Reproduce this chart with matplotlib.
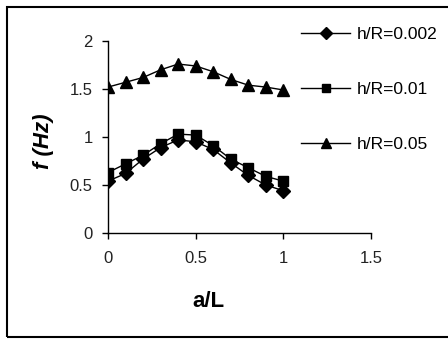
import matplotlib.pyplot as plt
from matplotlib.patches import Rectangle

plt.rcParams['font.family'] = ['Liberation Sans', 'DejaVu Sans']

# a/L 위치
a_L = [0, 0.1, 0.2, 0.3, 0.4, 0.5, 0.6, 0.7, 0.8, 0.9, 1.0]

# 주파수 f (Hz)
f_0002 = [0.54, 0.62, 0.77, 0.89, 0.97, 0.95, 0.87, 0.73, 0.60, 0.50, 0.44]
f_001 = [0.63, 0.72, 0.81, 0.93, 1.03, 1.02, 0.91, 0.77, 0.68, 0.59, 0.54]
f_005 = [1.52, 1.57, 1.62, 1.70, 1.76, 1.74, 1.68, 1.60, 1.54, 1.52, 1.49]

labels = ['h/R=0.002', 'h/R=0.01', 'h/R=0.05']
x_ticks = [0, 0.5, 1, 1.5]
y_ticks = [0, 0.5, 1, 1.5, 2]

fig = plt.figure(figsize=(4.48, 3.40), dpi=100)
ax = fig.add_axes([108 / 448, 1 - 233 / 340, 263 / 448, 192 / 340])

ax.plot(a_L, f_0002, color='black', lw=1.0, marker='D', ms=7, label=labels[0])
ax.plot(a_L, f_001, color='black', lw=1.0, marker='s', ms=7, label=labels[1])
ax.plot(a_L, f_005, color='black', lw=1.0, marker='^', ms=9, label=labels[2])

ax.set_xlim(0, 1.5)
ax.set_ylim(0, 2)
ax.set_xticks(x_ticks)
ax.set_xticklabels(['0', '0.5', '1', '1.5'])
ax.set_yticks(y_ticks)
ax.set_yticklabels(['0', '0.5', '1', '1.5', '2'])
ax.tick_params(axis='both', direction='out', length=4, width=1, labelsize=12, colors='black')
ax.tick_params(axis='y', pad=7)
ax.tick_params(axis='x', pad=9)
ax.spines['top'].set_visible(False)
ax.spines['right'].set_visible(False)
ax.spines['left'].set_linewidth(1)
ax.spines['bottom'].set_linewidth(1)
for t in ax.get_xticklabels() + ax.get_yticklabels():
    t.set_color('#222222')

ax.set_xlabel('a/L', fontsize=16, fontweight='bold')
ax.xaxis.set_label_coords(0.38, -0.30)
ax.set_ylabel('f (Hz)', fontsize=16, fontweight='bold', style='italic')
ax.yaxis.set_label_coords(-0.205, 0.48)

fig.legend(loc='upper left', bbox_to_anchor=(301 / 448, 1 - 27 / 340),
           frameon=False, fontsize=12.5, handlelength=2.85, handletextpad=0.35,
           labelspacing=2.3, borderaxespad=0, borderpad=0, markerscale=0.85)

# 바깥 테두리
fig.patches.append(Rectangle((7 / 448, 3 / 340), 1.0, 1 - 10 / 340,
                             transform=fig.transFigure, fill=False,
                             edgecolor='black', lw=1.5))

plt.savefig('out.png', dpi=100)
plt.close()
